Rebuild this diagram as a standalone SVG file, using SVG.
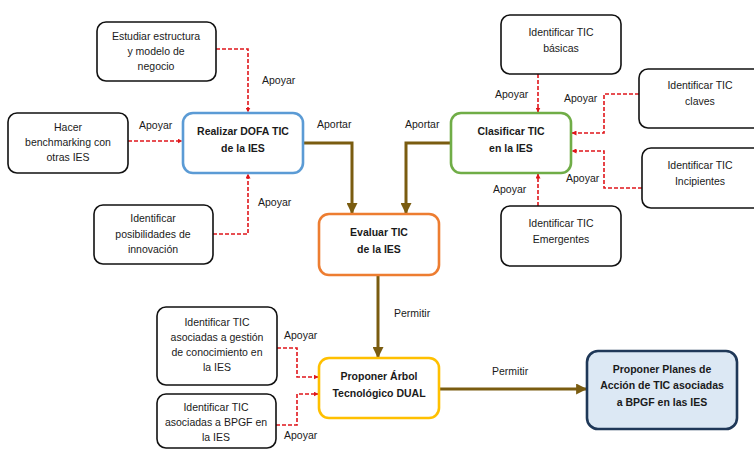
<svg xmlns="http://www.w3.org/2000/svg" width="754" height="449" viewBox="0 0 754 449">
  <defs>
    <marker id="arrRed" viewBox="0 0 10 10" refX="9" refY="5" markerWidth="5" markerHeight="5" orient="auto" markerUnits="userSpaceOnUse">
      <path d="M0,0 L10,5 L0,10 z" fill="#e0161b"/>
    </marker>
    <marker id="arrBrown" viewBox="0 0 10 10" refX="9" refY="5" markerWidth="11" markerHeight="11" orient="auto" markerUnits="userSpaceOnUse">
      <path d="M0,0 L10,5 L0,10 z" fill="#7a5c10"/>
    </marker>
  </defs>
  <style>
    text { font-family: "Liberation Sans", Arial, sans-serif; font-size: 10.5px; fill: #1a1a1a; }
    .c { text-anchor: middle; }
    .b { font-weight: bold; }
    .box { fill: #ffffff; stroke: #111111; stroke-width: 1.6; }
    .main { fill: #ffffff; stroke-width: 2.6; }
    .dash { fill: none; stroke: #e0161b; stroke-width: 1.6; stroke-dasharray: 4 2; marker-end: url(#arrRed); }
    .flow { fill: none; stroke: #7a5c10; stroke-width: 3; marker-end: url(#arrBrown); }
  </style>
  <rect width="754" height="449" fill="#ffffff"/>

  <!-- connectors -->
  <g id="connectors">
    <path class="dash" d="M216,49 H248 V112"/>
    <path class="dash" d="M128,141 H182"/>
    <path class="dash" d="M213,234 H248 V174"/>
    <path class="dash" d="M538,74 V112"/>
    <path class="dash" d="M639,94 H604 V133 H572"/>
    <path class="dash" d="M642,188 H604 V151 H572"/>
    <path class="dash" d="M538,206 V174"/>
    <path class="dash" d="M277,348 H297 V377 H318"/>
    <path class="dash" d="M276,425 H297 V394 H318"/>
    <path class="flow" d="M303,143 H352 V213"/>
    <path class="flow" d="M451,143 H406 V213"/>
    <path class="flow" d="M378,275 V357"/>
    <path class="flow" d="M439,389 H586"/>

    <text x="262" y="84">Apoyar</text>
    <text x="139" y="129">Apoyar</text>
    <text x="258" y="206">Apoyar</text>
    <text x="317" y="128">Aportar</text>
    <text x="405" y="128">Aportar</text>
    <text x="495" y="98">Apoyar</text>
    <text x="564" y="102">Apoyar</text>
    <text x="566" y="182">Apoyar</text>
    <text x="493" y="193">Apoyar</text>
    <text x="394" y="317">Permitir</text>
    <text x="284" y="339">Apoyar</text>
    <text x="284" y="439">Apoyar</text>
    <text x="492" y="375">Permitir</text>
  </g>

  <g id="estudiar">
    <rect class="box" x="97" y="22" width="119" height="59" rx="9"/>
    <text class="c" x="156" y="40">Estudiar estructura</text>
    <text class="c" x="156" y="55">y modelo de</text>
    <text class="c" x="156" y="70">negocio</text>
  </g>

  <g id="benchmarking">
    <rect class="box" x="8" y="113" width="120" height="60" rx="9"/>
    <text class="c" x="68" y="131">Hacer</text>
    <text class="c" x="68" y="146">benchmarking con</text>
    <text class="c" x="68" y="161">otras IES</text>
  </g>

  <g id="dofa">
    <rect class="main" x="183" y="113" width="120" height="60" rx="10" stroke="#5b9bd5"/>
    <text class="c b" x="243" y="135">Realizar DOFA TIC</text>
    <text class="c b" x="243" y="152">de la IES</text>
  </g>

  <g id="innovacion">
    <rect class="box" x="94" y="205" width="119" height="59" rx="9"/>
    <text class="c" x="153" y="222">Identificar</text>
    <text class="c" x="153" y="238">posibilidades de</text>
    <text class="c" x="153" y="253">innovación</text>
  </g>

  <g id="evaluar">
    <rect class="main" x="319" y="214" width="120" height="61" rx="10" stroke="#ed7d31"/>
    <text class="c b" x="379" y="236">Evaluar TIC</text>
    <text class="c b" x="379" y="253">de la IES</text>
  </g>

  <g id="clasificar">
    <rect class="main" x="451" y="113" width="120" height="60" rx="10" stroke="#70ad47"/>
    <text class="c b" x="511" y="135">Clasificar TIC</text>
    <text class="c b" x="511" y="152">en la IES</text>
  </g>

  <g id="basicas">
    <rect class="box" x="501" y="15" width="120" height="59" rx="9"/>
    <text class="c" x="561" y="36">Identificar TIC</text>
    <text class="c" x="561" y="52">básicas</text>
  </g>

  <g id="claves">
    <rect class="box" x="639" y="69" width="126" height="59" rx="9"/>
    <text class="c" x="700" y="89">Identificar TIC</text>
    <text class="c" x="700" y="105">claves</text>
  </g>

  <g id="incipientes">
    <rect class="box" x="642" y="148" width="124" height="60" rx="9"/>
    <text class="c" x="700" y="169">Identificar TIC</text>
    <text class="c" x="700" y="185">Incipientes</text>
  </g>

  <g id="emergentes">
    <rect class="box" x="501" y="206" width="120" height="60" rx="9"/>
    <text class="c" x="561" y="227">Identificar TIC</text>
    <text class="c" x="561" y="243">Emergentes</text>
  </g>

  <g id="gestion">
    <rect class="box" x="157" y="307" width="120" height="78" rx="9"/>
    <text class="c" x="217" y="326">Identificar TIC</text>
    <text class="c" x="217" y="341">asociadas a gestión</text>
    <text class="c" x="217" y="356">de conocimiento en</text>
    <text class="c" x="217" y="371">la IES</text>
  </g>

  <g id="bpgf">
    <rect class="box" x="157" y="394" width="119" height="54" rx="9"/>
    <text class="c" x="216" y="411">Identificar TIC</text>
    <text class="c" x="216" y="426">asociadas a BPGF en</text>
    <text class="c" x="216" y="441">la IES</text>
  </g>

  <g id="arbol">
    <rect class="main" x="319" y="358" width="120" height="60" rx="10" stroke="#ffc000"/>
    <text class="c b" x="379" y="380">Proponer Árbol</text>
    <text class="c b" x="379" y="397">Tecnológico DUAL</text>
  </g>

  <g id="planes">
    <rect class="main" x="587" y="351" width="150" height="78" rx="11" fill="#dce8f4" stroke="#1f3858" style="fill:#dce8f4"/>
    <text class="c b" x="662" y="373">Proponer Planes de</text>
    <text class="c b" x="662" y="389">Acción de TIC asociadas</text>
    <text class="c b" x="662" y="406">a BPGF en las IES</text>
  </g>
</svg>
